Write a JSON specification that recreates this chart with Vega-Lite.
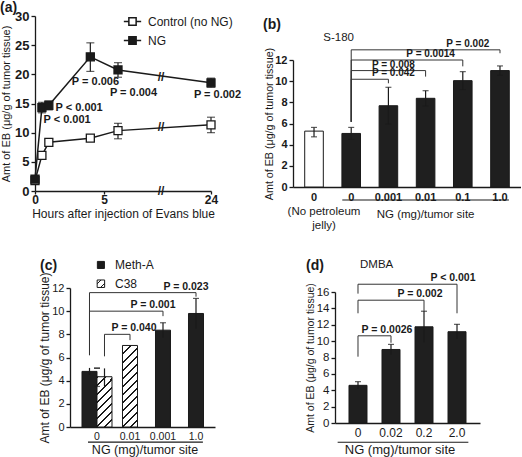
{
 "$schema": "https://vega.github.io/schema/vega-lite/v6.json",
 "padding": {"left": 0, "top": 1, "right": 0, "bottom": 0},
 "autosize": {"type": "pad"},
 "background": "white",
 "columns": 2,
 "spacing": {"row": 97, "column": 78},
 "bounds": "flush",
 "align": "each",
 "resolve": {"scale": {"fill": "independent"}, "legend": {"fill": "independent"}},
 "config": {
  "view": {"stroke": null},
  "font": "Liberation Sans",
  "axis": {"grid": false, "labelFont": "Liberation Sans", "titleFont": "Liberation Sans", "domainColor": "#1a1a1a", "tickColor": "#1a1a1a", "labelColor": "#1a1a1a", "titleColor": "#1a1a1a", "domainWidth": 1.3, "tickWidth": 1.3, "titleFontWeight": "normal", "labelFlush": false, "labelOverlap": false},
  "text": {"font": "Liberation Sans", "color": "#1a1a1a"},
  "title": {"font": "Liberation Sans", "color": "#1a1a1a"}
 },
 "datasets": {
  "a": [
   {"group": "Control (no NG)", "hour": 0, "value": 1.8, "lo": 1.3, "hi": 2.3},
   {"group": "Control (no NG)", "hour": 0.5, "value": 6.1, "lo": 5.5, "hi": 6.7},
   {"group": "Control (no NG)", "hour": 1, "value": 8.35, "lo": 7.9, "hi": 8.8},
   {"group": "Control (no NG)", "hour": 4, "value": 9.05, "lo": 8.6, "hi": 9.5},
   {"group": "Control (no NG)", "hour": 6, "value": 10.35, "lo": 8.95, "hi": 11.6},
   {"group": "Control (no NG)", "hour": 24, "value": 11.35, "lo": 10.0, "hi": 12.65},
   {"group": "NG", "hour": 0, "value": 2.05, "lo": 1.5, "hi": 2.6},
   {"group": "NG", "hour": 0.5, "value": 14.3, "lo": 13.4, "hi": 15.2},
   {"group": "NG", "hour": 1, "value": 14.7, "lo": 13.9, "hi": 15.4},
   {"group": "NG", "hour": 4, "value": 23.0, "lo": 20.5, "hi": 25.4},
   {"group": "NG", "hour": 6, "value": 20.75, "lo": 19.5, "hi": 22.0},
   {"group": "NG", "hour": 24, "value": 18.55, "lo": 17.8, "hi": 19.35}
  ],
  "a_breaks": [
   {"hour": 15, "value": 19.6},
   {"hour": 15, "value": 10.95},
   {"hour": 15, "value": 0}
  ],
  "a_labels": [
   {"hour": 4.37, "value": 18.66, "label": "P = 0.006"},
   {"hour": 9.24, "value": 16.77, "label": "P = 0.004"},
   {"hour": 25.17, "value": 16.5, "label": "P = 0.002"},
   {"hour": 3.19, "value": 14.2, "label": "P < 0.001"},
   {"hour": 2.32, "value": 12.2, "label": "P < 0.001"}
  ],
  "b": [
   {"cond": "none", "group": "none", "value": 5.28, "lo": 4.74, "hi": 5.63},
   {"cond": "0", "group": "NG", "value": 5.06, "lo": 4.5, "hi": 5.63},
   {"cond": "0.001", "group": "NG", "value": 7.68, "lo": 5.94, "hi": 9.42},
   {"cond": "0.01", "group": "NG", "value": 8.38, "lo": 7.66, "hi": 9.1},
   {"cond": "0.1", "group": "NG", "value": 10.05, "lo": 9.2, "hi": 10.9},
   {"cond": "1.0", "group": "NG", "value": 11.0, "lo": 10.56, "hi": 11.44}
  ],
  "b_br": [
   {"from": "0", "to": "0.001", "top": 10.18, "lb": 6.16, "rb": 9.8, "label": "P = 0.042", "over": "0.001"},
   {"from": "0", "to": "0.01", "top": 11.0, "lb": 6.16, "rb": 10.43, "label": "P = 0.008", "over": "0.001"},
   {"from": "0", "to": "0.1", "top": 12.0, "lb": 6.16, "rb": 11.4, "label": "P = 0.0014", "over": "0.01"},
   {"from": "0", "to": "1.0", "top": 12.96, "lb": 6.16, "rb": 12.64, "label": "P = 0.002", "over": "0.1"}
  ],
  "c": [
   {"dose": "0", "strain": "Meth-A", "value": 4.8, "lo": 4.5, "hi": 5.1},
   {"dose": "0", "strain": "C38", "value": 4.34, "lo": 3.5, "hi": 5.06},
   {"dose": "0.01", "strain": "C38", "value": 7.04, "lo": null, "hi": null},
   {"dose": "0.001", "strain": "Meth-A", "value": 8.36, "lo": 7.72, "hi": 9.0},
   {"dose": "1.0", "strain": "Meth-A", "value": 9.8, "lo": 8.5, "hi": 11.1}
  ],
  "c_br": [
   {"origin": "C38", "from": "0", "to": "0.01", "top": 8.0, "lb": 6.1, "rb": 7.5, "label": "P = 0.040"},
   {"origin": "Meth-A", "from": "0", "to": "0.001", "top": 10.0, "lb": 6.2, "rb": 9.57, "label": "P = 0.001"},
   {"origin": "Meth-A", "from": "0", "to": "1.0", "top": 11.6, "lb": 6.2, "rb": 11.25, "label": "P = 0.023"}
  ],
  "d": [
   {"dose": "0", "value": 4.6, "lo": 4.15, "hi": 5.05},
   {"dose": "0.02", "value": 8.98, "lo": 8.36, "hi": 9.6},
   {"dose": "0.2", "value": 11.75, "lo": 9.85, "hi": 13.65},
   {"dose": "2.0", "value": 11.15, "lo": 10.25, "hi": 12.05}
  ],
  "d_br": [
   {"from": "0", "to": "0.02", "top": 10.65, "lb": 8.1, "rb": 9.8, "label": "P = 0.0026"},
   {"from": "0", "to": "0.2", "top": 15.0, "lb": 13.4, "rb": 13.6, "label": "P = 0.002"},
   {"from": "0", "to": "2.0", "top": 16.95, "lb": 15.8, "rb": 13.4, "label": "P < 0.001"}
  ]
 },
 "concat": [
  {
   "width": 176, "height": 175,
   "title": {"text": "(a)", "anchor": "start", "frame": "group", "offset": 0, "dx": -35, "dy": 5, "fontSize": 14, "fontWeight": "bold"},
   "layer": [
    {"data": {"name": "a"}, "mark": {"type": "line", "color": "#1a1a1a", "strokeWidth": 1.5},
     "encoding": {
      "x": {"field": "hour", "type": "quantitative", "scale": {"domain": [0, 6, 15, 24], "range": [0, 83, 126, 176]}, "axis": {"values": [0, 5, 24], "title": "Hours after injection of Evans blue", "labelFontSize": 12, "labelFontWeight": "bold", "tickSize": 3, "labelPadding": 0, "titleFontSize": 12, "titlePadding": 3}},
      "y": {"field": "value", "type": "quantitative", "scale": {"domain": [0, 30]}, "axis": {"values": [0, 5, 10, 15, 20, 25, 30], "title": "Amt of EB (μg/g of tumor tissue)", "labelFontSize": 13, "labelFontWeight": "bold", "tickSize": 4, "labelPadding": 2, "titleFontSize": 11, "titlePadding": 3}},
      "detail": {"field": "group"}}},
    {"data": {"name": "a"}, "mark": {"type": "rule", "color": "#1a1a1a", "strokeWidth": 1.2},
     "encoding": {"x": {"field": "hour", "type": "quantitative"}, "y": {"field": "lo", "type": "quantitative", "axis": {"values": [0, 5, 10, 15, 20, 25, 30], "title": "Amt of EB (μg/g of tumor tissue)", "labelFontSize": 13, "labelFontWeight": "bold", "tickSize": 4, "labelPadding": 2, "titleFontSize": 11, "titlePadding": 3}}, "y2": {"field": "hi"}}},
    {"data": {"name": "a"}, "mark": {"type": "tick", "orient": "horizontal", "size": 8, "thickness": 1.2, "color": "#1a1a1a"},
     "encoding": {"x": {"field": "hour", "type": "quantitative"}, "y": {"field": "hi", "type": "quantitative", "axis": {"values": [0, 5, 10, 15, 20, 25, 30], "title": "Amt of EB (μg/g of tumor tissue)", "labelFontSize": 13, "labelFontWeight": "bold", "tickSize": 4, "labelPadding": 2, "titleFontSize": 11, "titlePadding": 3}}}},
    {"data": {"name": "a"}, "mark": {"type": "tick", "orient": "horizontal", "size": 8, "thickness": 1.2, "color": "#1a1a1a"},
     "encoding": {"x": {"field": "hour", "type": "quantitative"}, "y": {"field": "lo", "type": "quantitative", "axis": {"values": [0, 5, 10, 15, 20, 25, 30], "title": "Amt of EB (μg/g of tumor tissue)", "labelFontSize": 13, "labelFontWeight": "bold", "tickSize": 4, "labelPadding": 2, "titleFontSize": 11, "titlePadding": 3}}}},
    {"data": {"name": "a"}, "mark": {"type": "point", "shape": "square", "size": 64, "filled": true, "opacity": 1, "stroke": "#1a1a1a", "strokeWidth": 1.3},
     "encoding": {
      "x": {"field": "hour", "type": "quantitative"},
      "y": {"field": "value", "type": "quantitative", "axis": {"values": [0, 5, 10, 15, 20, 25, 30], "title": "Amt of EB (μg/g of tumor tissue)", "labelFontSize": 13, "labelFontWeight": "bold", "tickSize": 4, "labelPadding": 2, "titleFontSize": 11, "titlePadding": 3}},
      "fill": {"field": "group", "type": "nominal", "scale": {"domain": ["Control (no NG)", "NG"], "range": ["#ffffff", "#1a1a1a"]},
       "legend": {"orient": "none", "legendX": 88, "legendY": -4, "title": null, "symbolType": "M-1,0H-0.42M0.42,0H1M-0.42,-0.42H0.42V0.42H-0.42Z", "symbolSize": 300, "symbolStrokeColor": "#1a1a1a", "symbolStrokeWidth": 1.5, "labelFontSize": 12, "labelFont": "Liberation Sans", "labelColor": "#1a1a1a", "rowPadding": 2, "padding": 0, "labelOffset": 6}}}},
    {"data": {"name": "a_breaks"}, "mark": {"type": "text", "text": "//", "fontSize": 12, "fontWeight": "bold"},
     "encoding": {"x": {"field": "hour", "type": "quantitative"}, "y": {"field": "value", "type": "quantitative", "axis": {"values": [0, 5, 10, 15, 20, 25, 30], "title": "Amt of EB (μg/g of tumor tissue)", "labelFontSize": 13, "labelFontWeight": "bold", "tickSize": 4, "labelPadding": 2, "titleFontSize": 11, "titlePadding": 3}}}},
    {"data": {"name": "a_labels"}, "mark": {"type": "text", "fontSize": 11, "fontWeight": "bold"},
     "encoding": {"x": {"field": "hour", "type": "quantitative"}, "y": {"field": "value", "type": "quantitative", "axis": {"values": [0, 5, 10, 15, 20, 25, 30], "title": "Amt of EB (μg/g of tumor tissue)", "labelFontSize": 13, "labelFontWeight": "bold", "tickSize": 4, "labelPadding": 2, "titleFontSize": 11, "titlePadding": 3}}, "text": {"field": "label"}}}
   ]
  },
  {
   "width": 228, "height": 171,
   "title": {"text": "(b)", "anchor": "start", "frame": "group", "offset": 0, "dx": -30, "dy": 16, "fontSize": 14, "fontWeight": "bold"},
   "layer": [
    {"data": {"name": "b"}, "mark": {"type": "bar", "stroke": "#1a1a1a", "strokeWidth": 1},
     "encoding": {
      "x": {"field": "cond", "type": "nominal", "scale": {"domain": ["none", "0", "0.001", "0.01", "0.1", "1.0"], "paddingInner": 0.5, "paddingOuter": 0.315}, "axis": {"title": null, "labelAngle": 0, "ticks": false, "labelFontSize": 11, "labelFontWeight": "bold", "labelPadding": 4, "labelExpr": "datum.value === 'none' ? '0' : datum.label"}},
      "y": {"field": "value", "type": "quantitative", "scale": {"domain": [0, 12], "range": [171, 44]}, "axis": {"values": [0, 2, 4, 6, 8, 10, 12], "title": "Amt of EB (μg/g of tumor tissue)", "labelFontSize": 11, "labelFontWeight": "bold", "tickSize": 4, "labelPadding": 2, "titleFontSize": 10.7, "titlePadding": 0}},
      "fill": {"field": "group", "type": "nominal", "scale": {"domain": ["none", "NG"], "range": ["#ffffff", "#1f1f1f"]}, "legend": null}}},
    {"data": {"name": "b"}, "mark": {"type": "rule", "color": "#1a1a1a", "strokeWidth": 1.2},
     "encoding": {"x": {"field": "cond", "type": "nominal"}, "y": {"field": "lo", "type": "quantitative", "axis": {"values": [0, 2, 4, 6, 8, 10, 12], "title": "Amt of EB (μg/g of tumor tissue)", "labelFontSize": 11, "labelFontWeight": "bold", "tickSize": 4, "labelPadding": 2, "titleFontSize": 10.7, "titlePadding": 0}}, "y2": {"field": "hi"}}},
    {"data": {"name": "b"}, "mark": {"type": "tick", "orient": "horizontal", "size": 6, "thickness": 1.2, "color": "#1a1a1a"},
     "encoding": {"x": {"field": "cond", "type": "nominal"}, "y": {"field": "hi", "type": "quantitative", "axis": {"values": [0, 2, 4, 6, 8, 10, 12], "title": "Amt of EB (μg/g of tumor tissue)", "labelFontSize": 11, "labelFontWeight": "bold", "tickSize": 4, "labelPadding": 2, "titleFontSize": 10.7, "titlePadding": 0}}}},
    {"data": {"name": "b"}, "mark": {"type": "tick", "orient": "horizontal", "size": 6, "thickness": 1.2, "color": "#1a1a1a"},
     "encoding": {"x": {"field": "cond", "type": "nominal"}, "y": {"field": "lo", "type": "quantitative", "axis": {"values": [0, 2, 4, 6, 8, 10, 12], "title": "Amt of EB (μg/g of tumor tissue)", "labelFontSize": 11, "labelFontWeight": "bold", "tickSize": 4, "labelPadding": 2, "titleFontSize": 10.7, "titlePadding": 0}}}},
    {"data": {"name": "b_br"}, "mark": {"type": "rule", "color": "#333333", "strokeWidth": 1},
     "encoding": {"x": {"field": "from", "type": "nominal"}, "x2": {"field": "to"}, "y": {"field": "top", "type": "quantitative", "axis": {"values": [0, 2, 4, 6, 8, 10, 12], "title": "Amt of EB (μg/g of tumor tissue)", "labelFontSize": 11, "labelFontWeight": "bold", "tickSize": 4, "labelPadding": 2, "titleFontSize": 10.7, "titlePadding": 0}}}},
    {"data": {"name": "b_br"}, "mark": {"type": "rule", "color": "#333333", "strokeWidth": 1},
     "encoding": {"x": {"field": "from", "type": "nominal"}, "y": {"field": "top", "type": "quantitative", "axis": {"values": [0, 2, 4, 6, 8, 10, 12], "title": "Amt of EB (μg/g of tumor tissue)", "labelFontSize": 11, "labelFontWeight": "bold", "tickSize": 4, "labelPadding": 2, "titleFontSize": 10.7, "titlePadding": 0}}, "y2": {"field": "lb"}}},
    {"data": {"name": "b_br"}, "mark": {"type": "rule", "color": "#333333", "strokeWidth": 1},
     "encoding": {"x": {"field": "to", "type": "nominal"}, "y": {"field": "top", "type": "quantitative", "axis": {"values": [0, 2, 4, 6, 8, 10, 12], "title": "Amt of EB (μg/g of tumor tissue)", "labelFontSize": 11, "labelFontWeight": "bold", "tickSize": 4, "labelPadding": 2, "titleFontSize": 10.7, "titlePadding": 0}}, "y2": {"field": "rb"}}},
    {"data": {"name": "b_br"}, "mark": {"type": "text", "fontSize": 10, "fontWeight": "bold", "baseline": "bottom", "dy": -1, "dx": 5},
     "encoding": {"x": {"field": "over", "type": "nominal"}, "y": {"field": "top", "type": "quantitative", "axis": {"values": [0, 2, 4, 6, 8, 10, 12], "title": "Amt of EB (μg/g of tumor tissue)", "labelFontSize": 11, "labelFontWeight": "bold", "tickSize": 4, "labelPadding": 2, "titleFontSize": 10.7, "titlePadding": 0}}, "text": {"field": "label"}}},
    {"data": {"values": [{}]}, "mark": {"type": "text", "text": "S-180", "fontSize": 11.5, "align": "left"},
     "encoding": {"x": {"datum": "none", "type": "nominal", "bandPosition": 1}, "y": {"datum": 14.1, "type": "quantitative", "axis": {"values": [0, 2, 4, 6, 8, 10, 12], "title": "Amt of EB (μg/g of tumor tissue)", "labelFontSize": 11, "labelFontWeight": "bold", "tickSize": 4, "labelPadding": 2, "titleFontSize": 10.7, "titlePadding": 0}}}},
    {"data": {"values": [{}]}, "mark": {"type": "rule", "color": "#1a1a1a", "strokeWidth": 1.2},
     "encoding": {"x": {"datum": "0", "type": "nominal", "bandPosition": 0.02}, "x2": {"datum": "1.0", "bandPosition": 0.98}, "y": {"datum": -1.23, "type": "quantitative", "axis": {"values": [0, 2, 4, 6, 8, 10, 12], "title": "Amt of EB (μg/g of tumor tissue)", "labelFontSize": 11, "labelFontWeight": "bold", "tickSize": 4, "labelPadding": 2, "titleFontSize": 10.7, "titlePadding": 0}}}},
    {"data": {"values": [{}]}, "mark": {"type": "text", "text": "(No petroleum\njelly)", "lineBreak": "\n", "lineHeight": 14, "fontSize": 11.5, "baseline": "top", "dx": 10},
     "encoding": {"x": {"datum": "none", "type": "nominal"}, "y": {"datum": -1.75, "type": "quantitative", "axis": {"values": [0, 2, 4, 6, 8, 10, 12], "title": "Amt of EB (μg/g of tumor tissue)", "labelFontSize": 11, "labelFontWeight": "bold", "tickSize": 4, "labelPadding": 2, "titleFontSize": 10.7, "titlePadding": 0}}}},
    {"data": {"values": [{}]}, "mark": {"type": "text", "text": "NG (mg)/tumor site", "fontSize": 11.5, "baseline": "top"},
     "encoding": {"x": {"datum": "0.01", "type": "nominal"}, "y": {"datum": -2.1, "type": "quantitative", "axis": {"values": [0, 2, 4, 6, 8, 10, 12], "title": "Amt of EB (μg/g of tumor tissue)", "labelFontSize": 11, "labelFontWeight": "bold", "tickSize": 4, "labelPadding": 2, "titleFontSize": 10.7, "titlePadding": 0}}}}
   ]
  },
  {
   "width": 180, "height": 139,
   "title": {"text": "(c)", "anchor": "start", "frame": "group", "offset": 0, "dx": 5, "dy": 14, "fontSize": 14, "fontWeight": "bold"},
   "layer": [
    {"data": {"name": "c"}, "transform": [{"filter": "datum.dose === '0' && datum.strain === 'Meth-A'"}],
     "mark": {"type": "bar", "fill": "#1f1f1f", "stroke": "#1a1a1a", "strokeWidth": 1},
     "encoding": {
      "x": {"field": "dose", "type": "nominal", "scale": {"domain": ["0", "0.01", "0.001", "1.0"], "range": [35, 180], "paddingInner": 0.0909, "paddingOuter": 0.2424, "align": 0.75}, "axis": {"title": null, "labelAngle": 0, "ticks": false, "labelFontSize": 10.5, "labelPadding": 4}},
      "xOffset": {"field": "strain", "type": "nominal", "scale": {"domain": ["Meth-A", "C38"], "paddingInner": 0, "paddingOuter": 0}},
      "y": {"field": "value", "type": "quantitative", "scale": {"domain": [0, 12]}, "axis": {"offset": -35, "values": [0, 2, 4, 6, 8, 10, 12], "title": "Amt of EB (μg/g of tumor tissue)", "labelFontSize": 11, "tickSize": 4, "labelPadding": 2, "titleFontSize": 12, "titlePadding": 0}}}},
    {"data": {"name": "c"}, "transform": [{"filter": "datum.dose === '0' && datum.strain === 'C38'"}],
     "mark": {"type": "bar", "stroke": "#1a1a1a", "strokeWidth": 1,
      "fill": {"gradient": "linear", "x1": 0, "y1": 0, "x2": 0.358, "y2": 1.193, "stops": [
       {"offset": 0, "color": "#1a1a1a"}, {"offset": 0.031, "color": "#1a1a1a"}, {"offset": 0.031, "color": "#ffffff"}, {"offset": 0.125, "color": "#ffffff"},
       {"offset": 0.125, "color": "#1a1a1a"}, {"offset": 0.156, "color": "#1a1a1a"}, {"offset": 0.156, "color": "#ffffff"}, {"offset": 0.25, "color": "#ffffff"},
       {"offset": 0.25, "color": "#1a1a1a"}, {"offset": 0.281, "color": "#1a1a1a"}, {"offset": 0.281, "color": "#ffffff"}, {"offset": 0.375, "color": "#ffffff"},
       {"offset": 0.375, "color": "#1a1a1a"}, {"offset": 0.406, "color": "#1a1a1a"}, {"offset": 0.406, "color": "#ffffff"}, {"offset": 0.5, "color": "#ffffff"},
       {"offset": 0.5, "color": "#1a1a1a"}, {"offset": 0.531, "color": "#1a1a1a"}, {"offset": 0.531, "color": "#ffffff"}, {"offset": 0.625, "color": "#ffffff"},
       {"offset": 0.625, "color": "#1a1a1a"}, {"offset": 0.656, "color": "#1a1a1a"}, {"offset": 0.656, "color": "#ffffff"}, {"offset": 0.75, "color": "#ffffff"},
       {"offset": 0.75, "color": "#1a1a1a"}, {"offset": 0.781, "color": "#1a1a1a"}, {"offset": 0.781, "color": "#ffffff"}, {"offset": 0.875, "color": "#ffffff"},
       {"offset": 0.875, "color": "#1a1a1a"}, {"offset": 0.906, "color": "#1a1a1a"}, {"offset": 0.906, "color": "#ffffff"}, {"offset": 1, "color": "#ffffff"}]}},
     "encoding": {
      "x": {"field": "dose", "type": "nominal"},
      "xOffset": {"field": "strain", "type": "nominal"},
      "y": {"field": "value", "type": "quantitative", "axis": {"offset": -35, "values": [0, 2, 4, 6, 8, 10, 12], "title": "Amt of EB (μg/g of tumor tissue)", "labelFontSize": 11, "tickSize": 4, "labelPadding": 2, "titleFontSize": 12, "titlePadding": 0}}}},
    {"data": {"name": "c"}, "transform": [{"filter": "datum.dose !== '0' && datum.strain === 'Meth-A'"}],
     "mark": {"type": "bar", "fill": "#1f1f1f", "stroke": "#1a1a1a", "strokeWidth": 1, "width": {"band": 0.5}},
     "encoding": {"x": {"field": "dose", "type": "nominal"}, "y": {"field": "value", "type": "quantitative", "axis": {"offset": -35, "values": [0, 2, 4, 6, 8, 10, 12], "title": "Amt of EB (μg/g of tumor tissue)", "labelFontSize": 11, "tickSize": 4, "labelPadding": 2, "titleFontSize": 12, "titlePadding": 0}}}},
    {"data": {"name": "c"}, "transform": [{"filter": "datum.dose !== '0' && datum.strain === 'C38'"}],
     "mark": {"type": "bar", "stroke": "#1a1a1a", "strokeWidth": 1, "width": {"band": 0.5},
      "fill": {"gradient": "linear", "x1": 0, "y1": 0, "x2": 0.212, "y2": 1.146, "stops": [
       {"offset": 0, "color": "#1a1a1a"}, {"offset": 0.021, "color": "#1a1a1a"}, {"offset": 0.021, "color": "#ffffff"}, {"offset": 0.083, "color": "#ffffff"},
       {"offset": 0.083, "color": "#1a1a1a"}, {"offset": 0.104, "color": "#1a1a1a"}, {"offset": 0.104, "color": "#ffffff"}, {"offset": 0.167, "color": "#ffffff"},
       {"offset": 0.167, "color": "#1a1a1a"}, {"offset": 0.188, "color": "#1a1a1a"}, {"offset": 0.188, "color": "#ffffff"}, {"offset": 0.25, "color": "#ffffff"},
       {"offset": 0.25, "color": "#1a1a1a"}, {"offset": 0.271, "color": "#1a1a1a"}, {"offset": 0.271, "color": "#ffffff"}, {"offset": 0.333, "color": "#ffffff"},
       {"offset": 0.333, "color": "#1a1a1a"}, {"offset": 0.354, "color": "#1a1a1a"}, {"offset": 0.354, "color": "#ffffff"}, {"offset": 0.417, "color": "#ffffff"},
       {"offset": 0.417, "color": "#1a1a1a"}, {"offset": 0.438, "color": "#1a1a1a"}, {"offset": 0.438, "color": "#ffffff"}, {"offset": 0.5, "color": "#ffffff"},
       {"offset": 0.5, "color": "#1a1a1a"}, {"offset": 0.521, "color": "#1a1a1a"}, {"offset": 0.521, "color": "#ffffff"}, {"offset": 0.583, "color": "#ffffff"},
       {"offset": 0.583, "color": "#1a1a1a"}, {"offset": 0.604, "color": "#1a1a1a"}, {"offset": 0.604, "color": "#ffffff"}, {"offset": 0.667, "color": "#ffffff"},
       {"offset": 0.667, "color": "#1a1a1a"}, {"offset": 0.688, "color": "#1a1a1a"}, {"offset": 0.688, "color": "#ffffff"}, {"offset": 0.75, "color": "#ffffff"},
       {"offset": 0.75, "color": "#1a1a1a"}, {"offset": 0.771, "color": "#1a1a1a"}, {"offset": 0.771, "color": "#ffffff"}, {"offset": 0.833, "color": "#ffffff"},
       {"offset": 0.833, "color": "#1a1a1a"}, {"offset": 0.854, "color": "#1a1a1a"}, {"offset": 0.854, "color": "#ffffff"}, {"offset": 0.917, "color": "#ffffff"},
       {"offset": 0.917, "color": "#1a1a1a"}, {"offset": 0.938, "color": "#1a1a1a"}, {"offset": 0.938, "color": "#ffffff"}, {"offset": 1, "color": "#ffffff"}]}},
     "encoding": {"x": {"field": "dose", "type": "nominal"}, "y": {"field": "value", "type": "quantitative", "axis": {"offset": -35, "values": [0, 2, 4, 6, 8, 10, 12], "title": "Amt of EB (μg/g of tumor tissue)", "labelFontSize": 11, "tickSize": 4, "labelPadding": 2, "titleFontSize": 12, "titlePadding": 0}}}},
    {"data": {"name": "c"}, "transform": [{"filter": "datum.dose === '0' && datum.strain === 'Meth-A'"}],
     "mark": {"type": "rule", "color": "#1a1a1a", "strokeWidth": 1.2},
     "encoding": {"x": {"field": "dose", "type": "nominal", "bandPosition": 0.25}, "y": {"field": "lo", "type": "quantitative", "axis": {"offset": -35, "values": [0, 2, 4, 6, 8, 10, 12], "title": "Amt of EB (μg/g of tumor tissue)", "labelFontSize": 11, "tickSize": 4, "labelPadding": 2, "titleFontSize": 12, "titlePadding": 0}}, "y2": {"field": "hi"}}},
    {"data": {"name": "c"}, "transform": [{"filter": "datum.dose === '0' && datum.strain === 'Meth-A'"}],
     "mark": {"type": "tick", "orient": "horizontal", "size": 6, "thickness": 1.2, "color": "#1a1a1a"},
     "encoding": {"x": {"field": "dose", "type": "nominal", "bandPosition": 0.25}, "y": {"field": "hi", "type": "quantitative", "axis": {"offset": -35, "values": [0, 2, 4, 6, 8, 10, 12], "title": "Amt of EB (μg/g of tumor tissue)", "labelFontSize": 11, "tickSize": 4, "labelPadding": 2, "titleFontSize": 12, "titlePadding": 0}}}},
    {"data": {"name": "c"}, "transform": [{"filter": "datum.dose === '0' && datum.strain === 'C38'"}],
     "mark": {"type": "rule", "color": "#1a1a1a", "strokeWidth": 1.2},
     "encoding": {"x": {"field": "dose", "type": "nominal", "bandPosition": 0.75}, "y": {"field": "lo", "type": "quantitative", "axis": {"offset": -35, "values": [0, 2, 4, 6, 8, 10, 12], "title": "Amt of EB (μg/g of tumor tissue)", "labelFontSize": 11, "tickSize": 4, "labelPadding": 2, "titleFontSize": 12, "titlePadding": 0}}, "y2": {"field": "hi"}}},
    {"data": {"name": "c"}, "transform": [{"filter": "datum.dose === '0' && datum.strain === 'C38'"}],
     "mark": {"type": "tick", "orient": "horizontal", "size": 6, "thickness": 1.2, "color": "#1a1a1a"},
     "encoding": {"x": {"field": "dose", "type": "nominal", "bandPosition": 0.75}, "y": {"field": "hi", "type": "quantitative", "axis": {"offset": -35, "values": [0, 2, 4, 6, 8, 10, 12], "title": "Amt of EB (μg/g of tumor tissue)", "labelFontSize": 11, "tickSize": 4, "labelPadding": 2, "titleFontSize": 12, "titlePadding": 0}}}},
    {"data": {"name": "c"}, "transform": [{"filter": "datum.dose === '0' && datum.strain === 'C38'"}],
     "mark": {"type": "tick", "orient": "horizontal", "size": 6, "thickness": 1.2, "color": "#1a1a1a"},
     "encoding": {"x": {"field": "dose", "type": "nominal", "bandPosition": 0.75}, "y": {"field": "lo", "type": "quantitative", "axis": {"offset": -35, "values": [0, 2, 4, 6, 8, 10, 12], "title": "Amt of EB (μg/g of tumor tissue)", "labelFontSize": 11, "tickSize": 4, "labelPadding": 2, "titleFontSize": 12, "titlePadding": 0}}}},
    {"data": {"name": "c"}, "transform": [{"filter": "datum.dose !== '0' && datum.hi != null"}],
     "mark": {"type": "rule", "color": "#1a1a1a", "strokeWidth": 1.2},
     "encoding": {"x": {"field": "dose", "type": "nominal"}, "y": {"field": "lo", "type": "quantitative", "axis": {"offset": -35, "values": [0, 2, 4, 6, 8, 10, 12], "title": "Amt of EB (μg/g of tumor tissue)", "labelFontSize": 11, "tickSize": 4, "labelPadding": 2, "titleFontSize": 12, "titlePadding": 0}}, "y2": {"field": "hi"}}},
    {"data": {"name": "c"}, "transform": [{"filter": "datum.dose !== '0' && datum.hi != null"}],
     "mark": {"type": "tick", "orient": "horizontal", "size": 6, "thickness": 1.2, "color": "#1a1a1a"},
     "encoding": {"x": {"field": "dose", "type": "nominal"}, "y": {"field": "hi", "type": "quantitative", "axis": {"offset": -35, "values": [0, 2, 4, 6, 8, 10, 12], "title": "Amt of EB (μg/g of tumor tissue)", "labelFontSize": 11, "tickSize": 4, "labelPadding": 2, "titleFontSize": 12, "titlePadding": 0}}}},
    {"data": {"name": "c_br"}, "transform": [{"filter": "datum.origin === 'Meth-A'"}],
     "mark": {"type": "rule", "color": "#333333", "strokeWidth": 1},
     "encoding": {"x": {"field": "from", "type": "nominal", "bandPosition": 0.25}, "y": {"field": "top", "type": "quantitative", "axis": {"offset": -35, "values": [0, 2, 4, 6, 8, 10, 12], "title": "Amt of EB (μg/g of tumor tissue)", "labelFontSize": 11, "tickSize": 4, "labelPadding": 2, "titleFontSize": 12, "titlePadding": 0}}, "y2": {"field": "lb"}}},
    {"data": {"name": "c_br"}, "transform": [{"filter": "datum.origin === 'Meth-A'"}],
     "mark": {"type": "rule", "color": "#333333", "strokeWidth": 1},
     "encoding": {"x": {"field": "from", "type": "nominal", "bandPosition": 0.25}, "x2": {"field": "to", "bandPosition": 0.5}, "y": {"field": "top", "type": "quantitative", "axis": {"offset": -35, "values": [0, 2, 4, 6, 8, 10, 12], "title": "Amt of EB (μg/g of tumor tissue)", "labelFontSize": 11, "tickSize": 4, "labelPadding": 2, "titleFontSize": 12, "titlePadding": 0}}}},
    {"data": {"name": "c_br"}, "transform": [{"filter": "datum.origin === 'C38'"}],
     "mark": {"type": "rule", "color": "#333333", "strokeWidth": 1},
     "encoding": {"x": {"field": "from", "type": "nominal", "bandPosition": 0.75}, "y": {"field": "top", "type": "quantitative", "axis": {"offset": -35, "values": [0, 2, 4, 6, 8, 10, 12], "title": "Amt of EB (μg/g of tumor tissue)", "labelFontSize": 11, "tickSize": 4, "labelPadding": 2, "titleFontSize": 12, "titlePadding": 0}}, "y2": {"field": "lb"}}},
    {"data": {"name": "c_br"}, "transform": [{"filter": "datum.origin === 'C38'"}],
     "mark": {"type": "rule", "color": "#333333", "strokeWidth": 1},
     "encoding": {"x": {"field": "from", "type": "nominal", "bandPosition": 0.75}, "x2": {"field": "to", "bandPosition": 0.5}, "y": {"field": "top", "type": "quantitative", "axis": {"offset": -35, "values": [0, 2, 4, 6, 8, 10, 12], "title": "Amt of EB (μg/g of tumor tissue)", "labelFontSize": 11, "tickSize": 4, "labelPadding": 2, "titleFontSize": 12, "titlePadding": 0}}}},
    {"data": {"name": "c_br"}, "mark": {"type": "rule", "color": "#333333", "strokeWidth": 1},
     "encoding": {"x": {"field": "to", "type": "nominal"}, "y": {"field": "top", "type": "quantitative", "axis": {"offset": -35, "values": [0, 2, 4, 6, 8, 10, 12], "title": "Amt of EB (μg/g of tumor tissue)", "labelFontSize": 11, "tickSize": 4, "labelPadding": 2, "titleFontSize": 12, "titlePadding": 0}}, "y2": {"field": "rb"}}},
    {"data": {"name": "c_br"}, "transform": [{"filter": "datum.origin === 'Meth-A'"}],
     "mark": {"type": "text", "fontSize": 10.5, "fontWeight": "bold", "baseline": "bottom", "dy": -1, "dx": -10},
     "encoding": {"x": {"field": "to", "type": "nominal"}, "y": {"field": "top", "type": "quantitative", "axis": {"offset": -35, "values": [0, 2, 4, 6, 8, 10, 12], "title": "Amt of EB (μg/g of tumor tissue)", "labelFontSize": 11, "tickSize": 4, "labelPadding": 2, "titleFontSize": 12, "titlePadding": 0}}, "text": {"field": "label"}}},
    {"data": {"name": "c_br"}, "transform": [{"filter": "datum.origin === 'C38'"}],
     "mark": {"type": "text", "fontSize": 10.5, "fontWeight": "bold", "baseline": "bottom", "dy": -1, "dx": 4},
     "encoding": {"x": {"field": "to", "type": "nominal"}, "y": {"field": "top", "type": "quantitative", "axis": {"offset": -35, "values": [0, 2, 4, 6, 8, 10, 12], "title": "Amt of EB (μg/g of tumor tissue)", "labelFontSize": 11, "tickSize": 4, "labelPadding": 2, "titleFontSize": 12, "titlePadding": 0}}, "text": {"field": "label"}}},
    {"data": {"values": [{}]}, "mark": {"type": "point", "shape": "square", "size": 50, "filled": true, "opacity": 1, "fill": "#1a1a1a", "stroke": "#1a1a1a", "strokeWidth": 1},
     "encoding": {"x": {"datum": "0", "type": "nominal", "bandPosition": 0.63}, "y": {"datum": 13.99, "type": "quantitative", "axis": {"offset": -35, "values": [0, 2, 4, 6, 8, 10, 12], "title": "Amt of EB (μg/g of tumor tissue)", "labelFontSize": 11, "tickSize": 4, "labelPadding": 2, "titleFontSize": 12, "titlePadding": 0}}}},
    {"data": {"values": [{}]}, "mark": {"type": "point", "shape": "square", "size": 56, "filled": true, "opacity": 1, "stroke": "#1a1a1a", "strokeWidth": 1,
      "fill": {"gradient": "linear", "x1": 0, "y1": 0, "x2": 1, "y2": 1, "stops": [
       {"offset": 0, "color": "#ffffff"}, {"offset": 0.22, "color": "#ffffff"}, {"offset": 0.22, "color": "#1a1a1a"}, {"offset": 0.32, "color": "#1a1a1a"}, {"offset": 0.32, "color": "#ffffff"},
       {"offset": 0.68, "color": "#ffffff"}, {"offset": 0.68, "color": "#1a1a1a"}, {"offset": 0.78, "color": "#1a1a1a"}, {"offset": 0.78, "color": "#ffffff"}, {"offset": 1, "color": "#ffffff"}]}},
     "encoding": {"x": {"datum": "0", "type": "nominal", "bandPosition": 0.63}, "y": {"datum": 12.37, "type": "quantitative", "axis": {"offset": -35, "values": [0, 2, 4, 6, 8, 10, 12], "title": "Amt of EB (μg/g of tumor tissue)", "labelFontSize": 11, "tickSize": 4, "labelPadding": 2, "titleFontSize": 12, "titlePadding": 0}}}},
    {"data": {"values": [{}]}, "mark": {"type": "text", "text": "Meth-A", "fontSize": 12, "align": "left"},
     "encoding": {"x": {"datum": "0", "type": "nominal", "bandPosition": 1.1}, "y": {"datum": 13.99, "type": "quantitative", "axis": {"offset": -35, "values": [0, 2, 4, 6, 8, 10, 12], "title": "Amt of EB (μg/g of tumor tissue)", "labelFontSize": 11, "tickSize": 4, "labelPadding": 2, "titleFontSize": 12, "titlePadding": 0}}}},
    {"data": {"values": [{}]}, "mark": {"type": "text", "text": "C38", "fontSize": 12, "align": "left"},
     "encoding": {"x": {"datum": "0", "type": "nominal", "bandPosition": 1.1}, "y": {"datum": 12.37, "type": "quantitative", "axis": {"offset": -35, "values": [0, 2, 4, 6, 8, 10, 12], "title": "Amt of EB (μg/g of tumor tissue)", "labelFontSize": 11, "tickSize": 4, "labelPadding": 2, "titleFontSize": 12, "titlePadding": 0}}}},
    {"data": {"values": [{}]}, "mark": {"type": "rule", "color": "#1a1a1a", "strokeWidth": 1.2},
     "encoding": {"x": {"datum": "0", "type": "nominal", "bandPosition": 0.2}, "x2": {"datum": "1.0", "bandPosition": 0.73}, "y": {"datum": -1.3, "type": "quantitative", "axis": {"offset": -35, "values": [0, 2, 4, 6, 8, 10, 12], "title": "Amt of EB (μg/g of tumor tissue)", "labelFontSize": 11, "tickSize": 4, "labelPadding": 2, "titleFontSize": 12, "titlePadding": 0}}}},
    {"data": {"values": [{}]}, "mark": {"type": "text", "text": "NG (mg)/tumor site", "fontSize": 12.5},
     "encoding": {"x": {"datum": "0.01", "type": "nominal", "bandPosition": 1}, "y": {"datum": -1.95, "type": "quantitative", "axis": {"offset": -35, "values": [0, 2, 4, 6, 8, 10, 12], "title": "Amt of EB (μg/g of tumor tissue)", "labelFontSize": 11, "tickSize": 4, "labelPadding": 2, "titleFontSize": 12, "titlePadding": 0}}}}
   ]
  },
  {
   "width": 187, "height": 135,
   "title": {"text": "(d)", "anchor": "start", "frame": "group", "offset": 0, "dx": 13, "dy": 14, "fontSize": 14, "fontWeight": "bold"},
   "layer": [
    {"data": {"name": "d"}, "mark": {"type": "bar", "fill": "#1f1f1f", "stroke": "#1a1a1a", "strokeWidth": 1},
     "encoding": {
      "x": {"field": "dose", "type": "nominal", "scale": {"domain": ["0", "0.02", "0.2", "2.0"], "range": [42, 187], "paddingInner": 0.4545, "paddingOuter": 0.424}, "axis": {"title": null, "labelAngle": 0, "ticks": false, "labelFontSize": 12, "labelPadding": 4}},
      "y": {"field": "value", "type": "quantitative", "scale": {"domain": [0, 16], "range": [135, 4]}, "axis": {"offset": -42, "values": [0, 2, 4, 6, 8, 10, 12, 14, 16], "title": "Amt of EB (μg/g of tumor tissue)", "labelFontSize": 11.5, "tickSize": 4, "labelPadding": 2, "titleFontSize": 10.5, "titlePadding": 1}}}},
    {"data": {"name": "d"}, "mark": {"type": "rule", "color": "#1a1a1a", "strokeWidth": 1.2},
     "encoding": {"x": {"field": "dose", "type": "nominal"}, "y": {"field": "lo", "type": "quantitative", "axis": {"offset": -42, "values": [0, 2, 4, 6, 8, 10, 12, 14, 16], "title": "Amt of EB (μg/g of tumor tissue)", "labelFontSize": 11.5, "tickSize": 4, "labelPadding": 2, "titleFontSize": 10.5, "titlePadding": 1}}, "y2": {"field": "hi"}}},
    {"data": {"name": "d"}, "mark": {"type": "tick", "orient": "horizontal", "size": 6, "thickness": 1.2, "color": "#1a1a1a"},
     "encoding": {"x": {"field": "dose", "type": "nominal"}, "y": {"field": "hi", "type": "quantitative", "axis": {"offset": -42, "values": [0, 2, 4, 6, 8, 10, 12, 14, 16], "title": "Amt of EB (μg/g of tumor tissue)", "labelFontSize": 11.5, "tickSize": 4, "labelPadding": 2, "titleFontSize": 10.5, "titlePadding": 1}}}},
    {"data": {"name": "d_br"}, "mark": {"type": "rule", "color": "#333333", "strokeWidth": 1},
     "encoding": {"x": {"field": "from", "type": "nominal"}, "x2": {"field": "to"}, "y": {"field": "top", "type": "quantitative", "axis": {"offset": -42, "values": [0, 2, 4, 6, 8, 10, 12, 14, 16], "title": "Amt of EB (μg/g of tumor tissue)", "labelFontSize": 11.5, "tickSize": 4, "labelPadding": 2, "titleFontSize": 10.5, "titlePadding": 1}}}},
    {"data": {"name": "d_br"}, "mark": {"type": "rule", "color": "#333333", "strokeWidth": 1},
     "encoding": {"x": {"field": "from", "type": "nominal"}, "y": {"field": "top", "type": "quantitative", "axis": {"offset": -42, "values": [0, 2, 4, 6, 8, 10, 12, 14, 16], "title": "Amt of EB (μg/g of tumor tissue)", "labelFontSize": 11.5, "tickSize": 4, "labelPadding": 2, "titleFontSize": 10.5, "titlePadding": 1}}, "y2": {"field": "lb"}}},
    {"data": {"name": "d_br"}, "mark": {"type": "rule", "color": "#333333", "strokeWidth": 1},
     "encoding": {"x": {"field": "to", "type": "nominal"}, "y": {"field": "top", "type": "quantitative", "axis": {"offset": -42, "values": [0, 2, 4, 6, 8, 10, 12, 14, 16], "title": "Amt of EB (μg/g of tumor tissue)", "labelFontSize": 11.5, "tickSize": 4, "labelPadding": 2, "titleFontSize": 10.5, "titlePadding": 1}}, "y2": {"field": "rb"}}},
    {"data": {"name": "d_br"}, "mark": {"type": "text", "fontSize": 10.5, "fontWeight": "bold", "baseline": "bottom", "dy": -1, "dx": -4},
     "encoding": {"x": {"field": "to", "type": "nominal"}, "y": {"field": "top", "type": "quantitative", "axis": {"offset": -42, "values": [0, 2, 4, 6, 8, 10, 12, 14, 16], "title": "Amt of EB (μg/g of tumor tissue)", "labelFontSize": 11.5, "tickSize": 4, "labelPadding": 2, "titleFontSize": 10.5, "titlePadding": 1}}, "text": {"field": "label"}}},
    {"data": {"values": [{}]}, "mark": {"type": "text", "text": "DMBA", "fontSize": 11.5, "align": "left", "dx": 2},
     "encoding": {"x": {"datum": "0", "type": "nominal"}, "y": {"datum": 19.3, "type": "quantitative", "axis": {"offset": -42, "values": [0, 2, 4, 6, 8, 10, 12, 14, 16], "title": "Amt of EB (μg/g of tumor tissue)", "labelFontSize": 11.5, "tickSize": 4, "labelPadding": 2, "titleFontSize": 10.5, "titlePadding": 1}}}},
    {"data": {"values": [{}]}, "mark": {"type": "rule", "color": "#1a1a1a", "strokeWidth": 1.2},
     "encoding": {"x": {"datum": "0", "type": "nominal", "bandPosition": -0.63}, "x2": {"datum": "2.0", "bandPosition": 1.13}, "y": {"datum": -2.35, "type": "quantitative", "axis": {"offset": -42, "values": [0, 2, 4, 6, 8, 10, 12, 14, 16], "title": "Amt of EB (μg/g of tumor tissue)", "labelFontSize": 11.5, "tickSize": 4, "labelPadding": 2, "titleFontSize": 10.5, "titlePadding": 1}}}},
    {"data": {"values": [{}]}, "mark": {"type": "text", "text": "NG (mg)/tumor site", "fontSize": 13},
     "encoding": {"x": {"datum": "0.02", "type": "nominal", "bandPosition": 1}, "y": {"datum": -3.3, "type": "quantitative", "axis": {"offset": -42, "values": [0, 2, 4, 6, 8, 10, 12, 14, 16], "title": "Amt of EB (μg/g of tumor tissue)", "labelFontSize": 11.5, "tickSize": 4, "labelPadding": 2, "titleFontSize": 10.5, "titlePadding": 1}}}}
   ]
  }
 ]
}
